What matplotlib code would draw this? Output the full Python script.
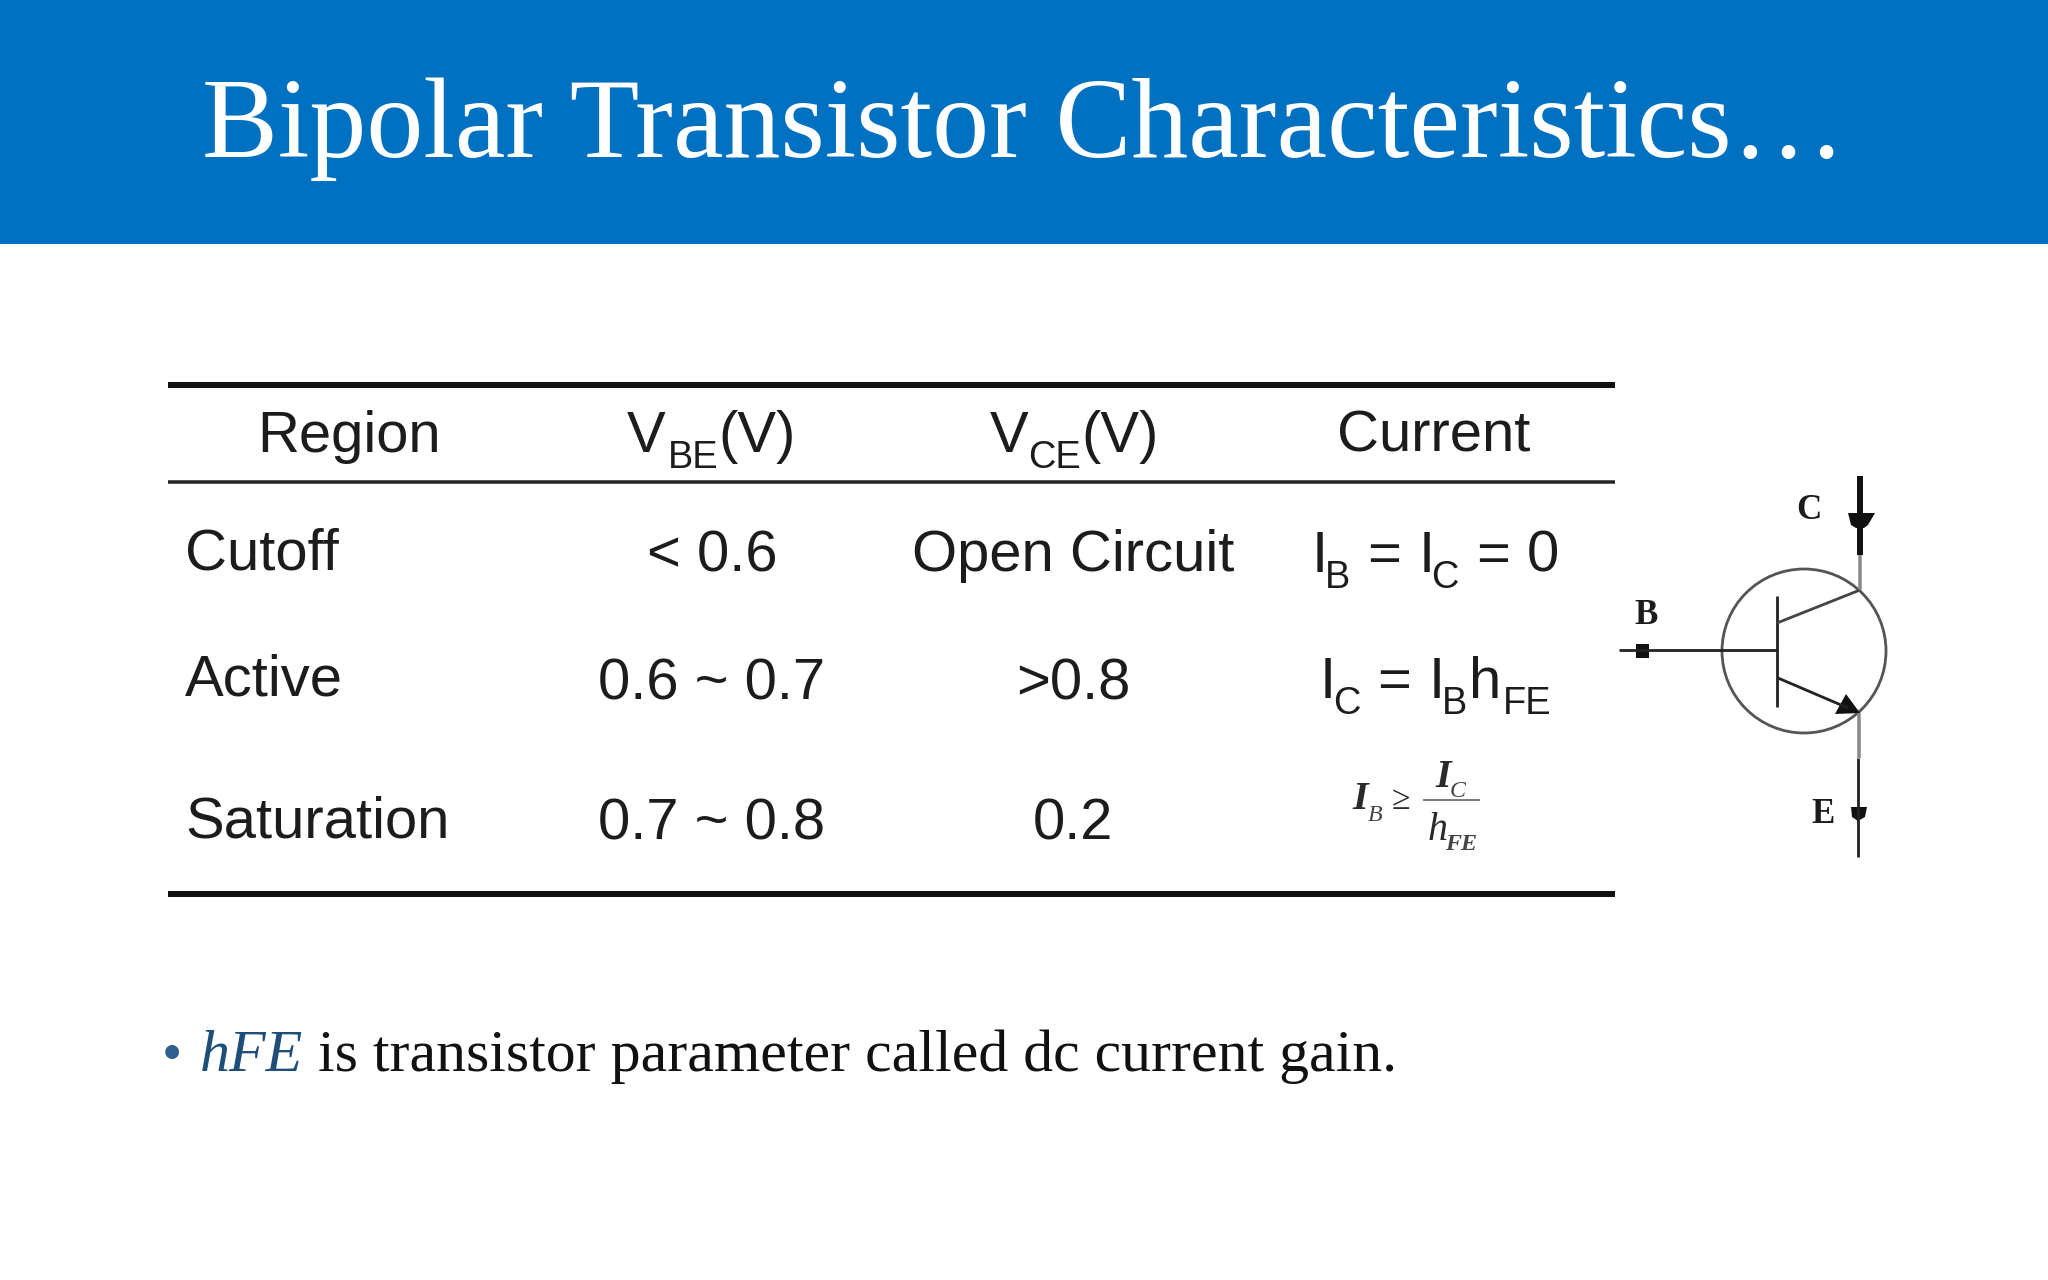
"""
Slide: bipolar transistor characteristics table with symbol
"""
import matplotlib
matplotlib.use('Agg')
import matplotlib.pyplot as plt
from matplotlib.patches import Circle, Polygon, Rectangle

W, H = 2048, 1280
SANS = 'Liberation Sans'
SERIF = 'Liberation Serif'
INK = '#1c1c1c'

title_text = 'Bipolar Transistor Characteristics…'
header_region = 'Region'
header_vce_sub = 'CE'
header_vbe_sub = 'BE'
header_current = 'Current'
regions = ['Cutoff', 'Active', 'Saturation']
vbe_values = ['< 0.6', '0.6 ~ 0.7', '0.7 ~ 0.8']
vce_values = ['Open Circuit', '>0.8', '0.2']
bullet_term = 'hFE'
bullet_text = 'is transistor parameter called dc current gain.'

fig = plt.figure(figsize=(W / 100, H / 100), dpi=100, facecolor='white')
ax = fig.add_axes([0, 0, 1, 1])
ax.set_xlim(0, W)
ax.set_ylim(H, 0)
ax.axis('off')
renderer = fig.canvas.get_renderer()


def px(size):
    # font size given in pixels of em height
    return size * 0.72


def put(x, y, s, size=58, family=SANS, color=INK, ha='left', **kw):
    return ax.text(x, y, s, fontsize=px(size), family=family, color=color,
                   ha=ha, va='baseline', **kw)


def runs(x, y, parts, size=58, sub_size=38, sub_drop=16):
    """Draw text pieces one after another; a piece is (text, is_sub, gap after)"""
    for s, is_sub, gap in parts:
        t = put(x, y + (sub_drop if is_sub else 0), s, size=sub_size if is_sub else size)
        x = t.get_window_extent(renderer).x1 + gap


def hline(x0, x1, y, lw, color='#111111'):
    ax.plot([x0, x1], [y, y], color=color, linewidth=lw * 0.72, solid_capstyle='butt')


def wire(xs, ys, lw, color='#222222'):
    ax.plot(xs, ys, color=color, linewidth=lw * 0.72, solid_capstyle='butt')


# Title band
ax.add_patch(Rectangle((0, 0), W, 244, facecolor='#0070C0', edgecolor='none'))
put(202, 157, title_text, size=113.7, family=SERIF, color='white')

# Table rules
hline(168, 1615, 385, 6)
hline(168, 1615, 482, 3.5, color='#222222')
hline(168, 1615, 894, 6)

# Header row
put(257, 452, header_region)
runs(627, 452, [('V', False, 2), (header_vbe_sub, True, 0), ('(V)', False, 0)])
runs(990, 452, [('V', False, 0), (header_vce_sub, True, 0), ('(V)', False, 0)])
put(1434, 452, header_current, ha='center')

# Body rows
region_y = [570, 696, 837]
vbe_y = [572, 699, 839]
vce_y = [571, 699, 839]
for i, region in enumerate(regions):
    put(185, region_y[i], region)
    put(712, vbe_y[i], vbe_values[i], ha='center')
    put(1073, vce_y[i], vce_values[i], ha='center')

runs(1312, 572, [('I', False, -3), ('B', True, 17), ('=', False, 17), ('I', False, -3),
                 ('C', True, 17), ('=', False, 17), ('0', False, 0)])
runs(1320, 698, [('I', False, -3), ('C', True, 17), ('=', False, 17), ('I', False, -3),
                 ('B', True, 2), ('h', False, 2), ('FE', True, 0)])

# Saturation current condition
put(1352, 809, 'I', size=40, family=SERIF, style='italic', weight='bold', color='#2a2a2a')
put(1368, 821, 'B', size=24, family=SERIF, style='italic', color='#444444')
put(1392, 809, '≥', size=34, family=SERIF, color='#2a2a2a')
put(1435, 787, 'I', size=40, family=SERIF, style='italic', weight='bold', color='#2a2a2a')
put(1450, 797, 'C', size=24, family=SERIF, style='italic', color='#444444')
hline(1423, 1480, 800, 1.5, color='#555555')
put(1428, 840, 'h', size=40, family=SERIF, style='italic', color='#2a2a2a')
put(1445, 850, 'FE', size=24, family=SERIF, style='italic', weight='bold', color='#444444')

# Transistor symbol
ax.add_patch(Circle((1804, 651), 82, facecolor='none', edgecolor='#555555', linewidth=2.8 * 0.72))
wire([1619, 1777], [650, 650], 2.8)
ax.add_patch(Rectangle((1636, 644), 13, 14, facecolor='#111111', edgecolor='none'))
wire([1777, 1777], [596, 707], 2.8)
wire([1777, 1860], [623, 590], 2.8, color='#444444')
wire([1778, 1848], [678, 708], 2.8)
ax.add_patch(Polygon([(1860, 713), (1846, 694), (1835, 714)], facecolor='#111111', edgecolor='none'))
wire([1860, 1860], [590, 555], 3.5, color='#888888')
wire([1860, 1860], [476, 555], 6, color='#111111')
ax.add_patch(Polygon([(1848, 513), (1875, 513), (1868, 525), (1864, 528), (1856, 528), (1851, 525)],
                     facecolor='#111111', edgecolor='none'))
wire([1859, 1859], [713, 758], 3.5, color='#888888')
wire([1858, 1858], [758, 857], 2.8)
ax.add_patch(Polygon([(1851, 807), (1867, 807), (1865, 817), (1858, 821), (1852, 817)],
                     facecolor='#111111', edgecolor='none'))
put(1796, 519, 'C', size=35, family=SERIF, weight='bold')
put(1634, 624, 'B', size=35, family=SERIF, weight='bold')
put(1811, 823, 'E', size=35, family=SERIF, weight='bold')

# Bullet line
put(162, 1071, '•', size=58, family=SERIF, color='#2E5F8E')
put(200, 1071, bullet_term, size=60, family=SERIF, style='italic', color='#1F4E79')
put(318, 1071, bullet_text, size=59.8, family=SERIF, color='#111111')

fig.savefig('out.png', dpi=100)
plt.close(fig)
